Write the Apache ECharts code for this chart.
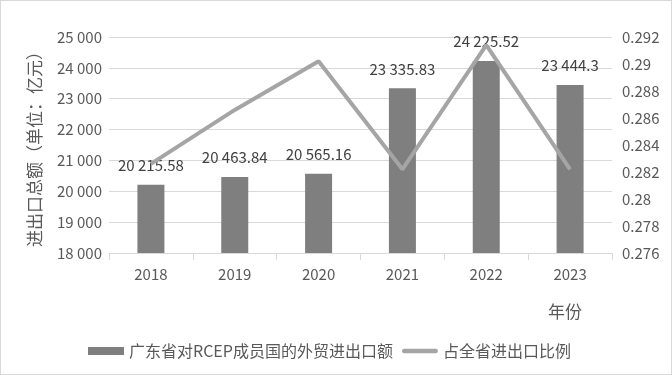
<!DOCTYPE html>
<html><head><meta charset="utf-8">
<script src="https://cdn.jsdelivr.net/npm/echarts@6/dist/echarts.min.js"></script>
<style>html,body{margin:0;padding:0;background:#fff}#c{width:672px;height:375px;box-sizing:border-box;border:1px solid #d9d9d9}</style>
</head><body><div id="c"></div>
<script>
const categories = ['2018','2019','2020','2021','2022','2023'];
const tradeValues = [20215.58, 20463.84, 20565.16, 23335.83, 24225.52, 23444.3];
const ratioValues = [0.2826, 0.2866, 0.2902, 0.2822, 0.2914, 0.2822];
const barName = '广东省对RCEP成员国的外贸进出口额';
const lineName = '占全省进出口比例';

const FONT = '"Noto Sans CJK SC", "Noto Sans", sans-serif';
function spaced(v){
  const s = String(v);
  const parts = s.split('.');
  parts[0] = parts[0].replace(/\B(?=(\d{3})+(?!\d))/g, ' ');
  return parts.join('.');
}
const chart = echarts.init(document.getElementById('c'));
chart.setOption({
  animation:false,
  textStyle:{fontFamily:FONT},
  grid:{left:108,right:59,top:36,bottom:121},
  legend:{
    bottom:10, left:82, itemWidth:36, itemHeight:8, itemGap:9,
    textStyle:{fontFamily:FONT,fontSize:16,color:'#595959'},
    data:[{name:barName,icon:'rect'},{name:lineName,icon:'path://M2.5,0h35a2.5,2.5 0 0 1 0,5h-35a2.5,2.5 0 0 1 0,-5z'}]
  },
  xAxis:{
    type:'category', data:categories,
    axisLine:{lineStyle:{color:'#d9d9d9'}},
    axisTick:{show:true,length:7,lineStyle:{color:'#d9d9d9'}},
    axisLabel:{fontSize:15,color:'#595959',margin:14,fontFamily:FONT}
  },
  yAxis:[{
    type:'value', min:18000, max:25000, interval:1000,
    name:'进出口总额（单位：亿元）', nameLocation:'middle', nameGap:66,
    nameTextStyle:{fontSize:17,color:'#595959',fontFamily:FONT},
    axisLine:{show:false}, axisTick:{show:false},
    splitLine:{lineStyle:{color:'#d9d9d9'}},
    axisLabel:{fontSize:15,color:'#595959',margin:7,formatter:v=>spaced(v),fontFamily:FONT}
  },{
    type:'value', min:0.276, max:0.292, interval:0.002,
    axisLine:{show:false}, axisTick:{show:false}, splitLine:{show:false},
    axisLabel:{fontSize:15,color:'#595959',margin:10,formatter:v=>String(parseFloat(v.toFixed(3))),fontFamily:FONT}
  }],
  graphic:[{type:'text',left:547,top:302,style:{text:'年份',fontSize:17,fill:'#595959',fontFamily:FONT}}],
  series:[{
    name:barName, type:'bar', data:tradeValues, barWidth:27, yAxisIndex:0,
    itemStyle:{color:'#7f7f80'},
    label:{show:true,position:'top',distance:12,fontSize:15,color:'#404040',fontFamily:FONT,formatter:p=>spaced(p.value)}
  },{
    name:lineName, type:'line', data:ratioValues, yAxisIndex:1,
    symbol:'none', lineStyle:{color:'#a5a5a5',width:4}, itemStyle:{color:'#a5a5a5'}
  }]
});
</script></body></html>
